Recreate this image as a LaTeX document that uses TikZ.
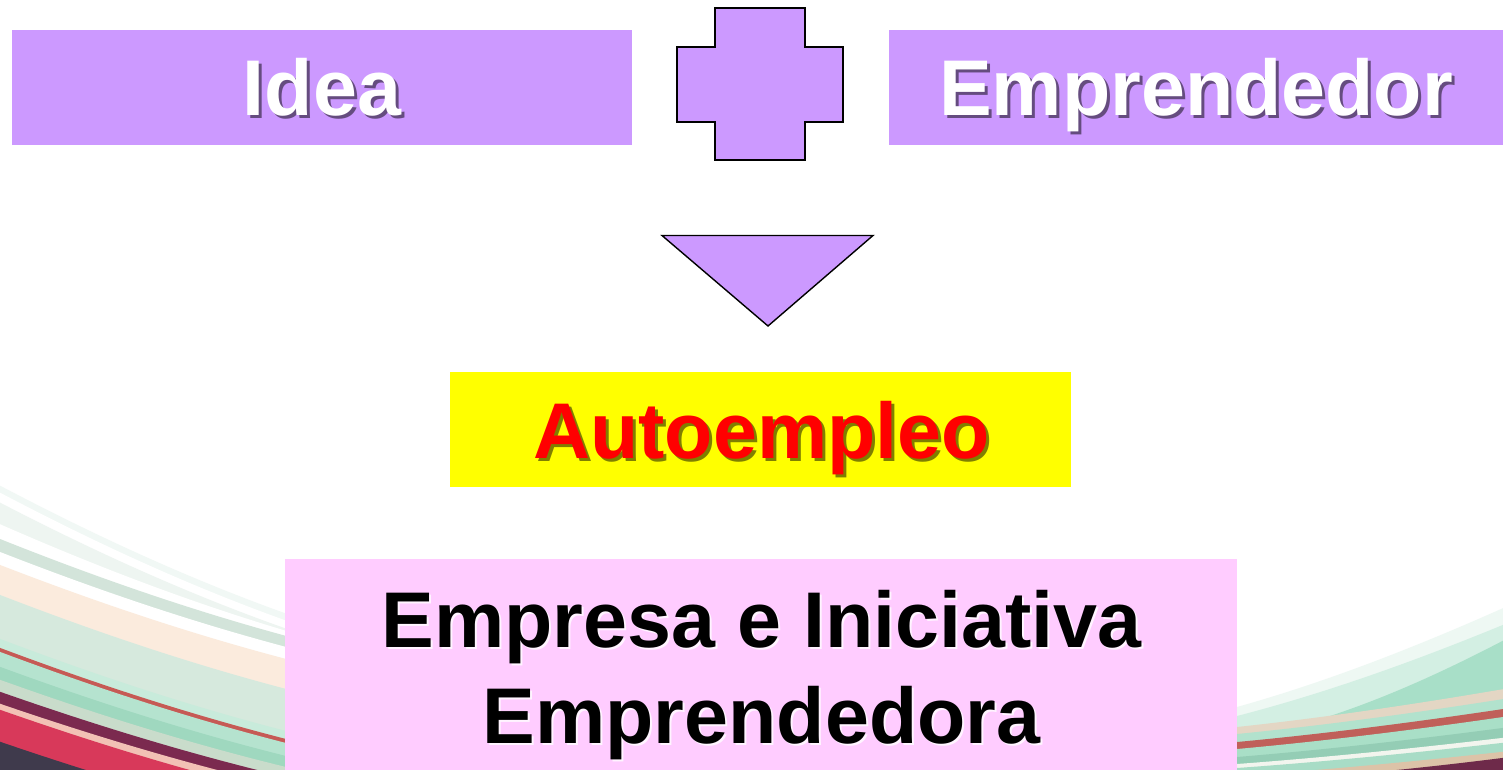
\documentclass[tikz,border=0pt]{standalone}
\usepackage{fontspec}
\setmainfont{Liberation Sans}
\definecolor{lila}{HTML}{CC99FF}
\definecolor{amarillo}{HTML}{FFFF00}
\definecolor{rosa}{HTML}{FFCCFF}
\definecolor{rojo}{HTML}{FF0000}

% stripes of the lower-left swoosh: hex colour, y at the left edge, y at x=290
\newcommand\leftstripe[3]{%
  \definecolor{stripecol}{HTML}{#1}%
  \pgfmathsetmacro\cpa{#2+0.40*(#3-#2)}%
  \pgfmathsetmacro\cpb{#2+0.73*(#3-#2)}%
  \fill[stripecol] (-5,#2) .. controls (95,\cpa) and (190,\cpb) .. (290,#3)
    -- (290,790) -- (-5,790) -- cycle;}
% stripes of the lower-right swoosh: hex colour, x start, y at start, y at the right edge
\newcommand\rightstripe[4]{%
  \definecolor{stripecol}{HTML}{#1}%
  \pgfmathsetmacro\cpa{#3+0.25*(#4-#3)}%
  \pgfmathsetmacro\cpb{#3+0.60*(#4-#3)}%
  \pgfmathsetmacro\xa{#2+(1510-#2)/3}%
  \pgfmathsetmacro\xb{#2+2*(1510-#2)/3}%
  \fill[stripecol] (#2,#3) .. controls (\xa,\cpa) and (\xb,\cpb) .. (1510,#4)
    -- (1510,790) -- (#2,790) -- cycle;}

\begin{document}
\begin{tikzpicture}[x=1pt,y=-1pt,
  box/.style={inner sep=0pt, outer sep=0pt},
  big/.style={font=\fontsize{79}{96}\selectfont\bfseries, inner sep=0pt, anchor=base},
  darkshadow/.style={big, text=black, opacity=0.5},
  lightshadow/.style={big, text=white, opacity=0.8},
  outline/.style={draw=black, line width=1.6pt, line join=miter, fill=lila}]

\useasboundingbox (0,0) rectangle (1503,770);
\fill[white] (0,0) rectangle (1503,770);

% ---- decorative swoosh, lower left ----
\begin{scope}
\clip (0,0) rectangle (1503,770);
\leftstripe{F1F8F5}{483}{615}
\leftstripe{FFFFFF}{490}{622}
\leftstripe{EEF5F1}{500}{630}
\leftstripe{FFFFFF}{522}{632}
\leftstripe{D3E4DA}{537}{637}
\leftstripe{FFFFFF}{550}{648}
\leftstripe{FBEBDD}{563}{660}
\leftstripe{D6E9DD}{593}{690}
\leftstripe{C8EBDB}{637}{732}
\leftstripe{C65A55}{646}{740}
\leftstripe{B5E3CF}{650}{744}
\leftstripe{9FD8BF}{665}{757}
\leftstripe{C9DCCB}{678}{768}
\leftstripe{7B2A4F}{690}{778}
\leftstripe{F2C1B5}{702}{788}
\leftstripe{D8395A}{708}{796}
\leftstripe{3F3A4C}{740}{826}

% ---- decorative swoosh, lower right ----
\rightstripe{EEF8F3}{1237}{707}{605}
\rightstripe{D3EFE3}{1237}{716}{622}
\rightstripe{A8DFC8}{1330}{716}{637}
\rightstripe{E3D6C4}{1237}{727}{688}
\rightstripe{B2E2CD}{1237}{734}{698}
\rightstripe{C0605A}{1237}{742}{708}
\rightstripe{A9DFC7}{1237}{749}{716}
\rightstripe{94CDB5}{1237}{757}{727}
\rightstripe{F2F5EE}{1237}{764}{737}
\rightstripe{A8DCC6}{1237}{768}{742}
\rightstripe{DCC3A8}{1237}{776}{751}
\rightstripe{6E2A4A}{1330}{776}{757}
\end{scope}

% ---- boxes ----
\node[box, fill=lila, minimum width=620pt, minimum height=115pt] (idea) at (322,87.5) {};
\node[box, fill=lila, minimum width=614pt, minimum height=115pt] (emprendedor) at (1196,87.5) {};
\node[box, fill=amarillo, minimum width=621pt, minimum height=115pt] (autoempleo) at (760.5,429.5) {};
\node[box, fill=rosa, minimum width=952pt, minimum height=211pt] (empresa) at (761,664.5) {};

% ---- plus sign between the two top boxes ----
\draw[outline] (715,8) -- (805,8) -- (805,47) -- (843,47) -- (843,122) -- (805,122)
  -- (805,160) -- (715,160) -- (715,122) -- (677,122) -- (677,47) -- (715,47) -- cycle;

% ---- downward triangle ----
\draw[outline, line width=1.4pt] (662,235.5) -- (873,235.5) -- (768,326) -- cycle;

% ---- labels ----
\node[darkshadow] (ideaS) at (325,119) {Idea};
\node[big, text=white] (ideaT) at (322,116) {Idea};

\node[darkshadow] (emprS) at (1199,119) {Emprendedor};
\node[big, text=white] (emprT) at (1196,116) {Emprendedor};

\node[darkshadow] (autoS) at (764.5,461) {Autoempleo};
\node[big, text=rojo] (autoT) at (761.5,458) {Autoempleo};

\node[lightshadow] (emp1S) at (763.5,649.5) {Empresa e Iniciativa};
\node[big, text=black] (emp1T) at (761.5,647) {Empresa e Iniciativa};
\node[lightshadow] (emp2S) at (763.5,745.5) {Emprendedora};
\node[big, text=black] (emp2T) at (761.5,743) {Emprendedora};
\end{tikzpicture}
\end{document}
